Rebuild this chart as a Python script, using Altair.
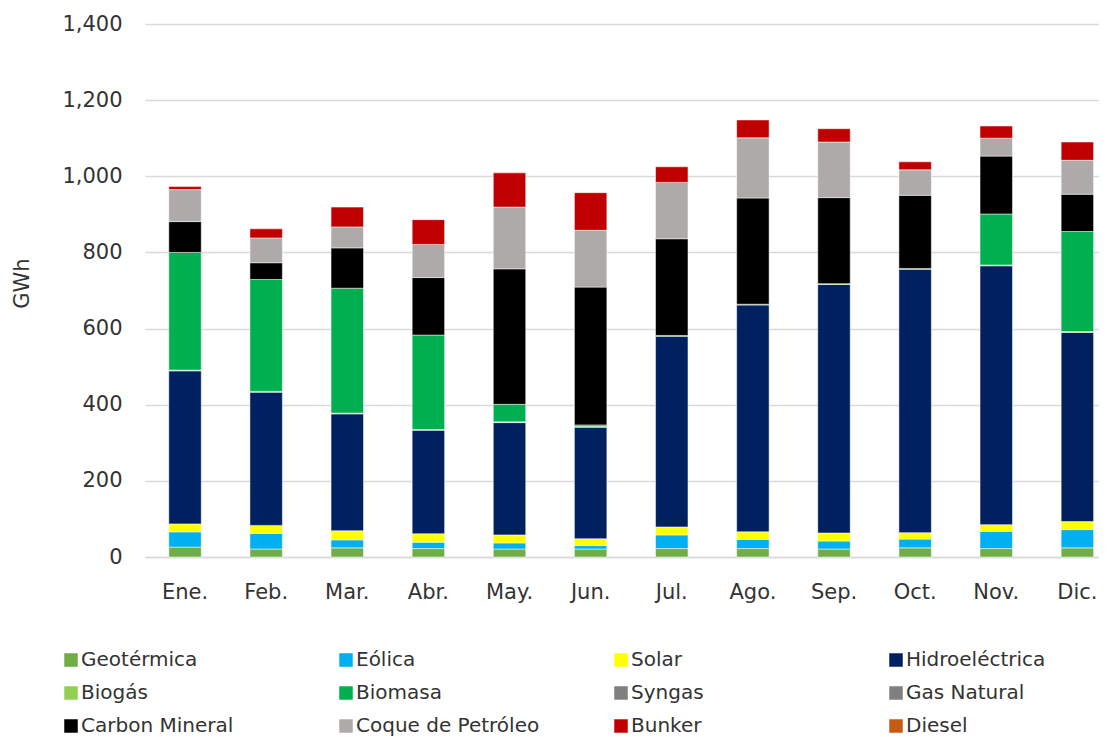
import altair as alt
import pandas as pd

months = ["Ene.", "Feb.", "Mar.", "Abr.", "May.", "Jun.", "Jul.", "Ago.", "Sep.", "Oct.", "Nov.", "Dic."]
sources = ["Geotérmica", "Eólica", "Solar", "Hidroeléctrica", "Biogás", "Biomasa",
           "Syngas", "Gas Natural", "Carbon Mineral", "Coque de Petróleo", "Bunker", "Diesel"]
colors = ["#70AD47", "#00B0F0", "#FFFF00", "#002060", "#92D050", "#00B050",
          "#808080", "#7F7F7F", "#000000", "#AEAAAA", "#C00000", "#C55A11"]

geotermica = [26, 21, 24, 22, 21, 21, 22, 22, 21, 24, 22, 24]
eolica = [40, 41, 21, 17, 16, 9, 36, 24, 21, 23, 45, 48]
solar = [21, 21, 24, 22, 21, 18, 21, 20, 21, 17, 18, 21]
hidro = [402, 350, 307, 272, 295, 293, 501, 596, 653, 692, 680, 497]
biogas = [2, 2, 2, 2, 2, 2, 2, 2, 2, 2, 2, 2]
biomasa = [309, 294, 328, 248, 46, 4, 0, 0, 0, 0, 134, 263]
syngas = [0, 0, 0, 0, 0, 0, 0, 0, 0, 0, 0, 0]
gas_natural = [0, 0, 0, 0, 0, 0, 0, 0, 0, 0, 0, 0]
carbon = [81, 44, 106, 151, 356, 362, 254, 279, 226, 192, 152, 98]
coque = [84, 65, 55, 87, 162, 149, 148, 158, 146, 67, 47, 89]
bunker = [8, 24, 52, 65, 90, 99, 41, 47, 35, 21, 32, 48]
diesel = [0, 0, 0, 0, 0, 0, 0, 0, 0, 0, 0, 0]

series = [geotermica, eolica, solar, hidro, biogas, biomasa,
          syngas, gas_natural, carbon, coque, bunker, diesel]

rows = []
for si, (name, vals) in enumerate(zip(sources, series)):
    for m, v in zip(months, vals):
        if v > 0:
            rows.append({"Mes": m, "Fuente": name, "GWh": v, "idx": si})
df = pd.DataFrame(rows)

FONT = "DejaVu Sans"
TXT = "#333333"

chart = alt.Chart(df).mark_bar(stroke="white", strokeWidth=0.5).encode(
    x=alt.X("Mes:N",
            scale=alt.Scale(domain=months, paddingInner=0.6, paddingOuter=0.18, align=0.815),
            axis=alt.Axis(title=None, labelAngle=0, ticks=False, tickSize=0, domain=True,
                          domainColor="#d9d9d9", domainWidth=1.3, labelPadding=24,
                          labelFontSize=21, labelFont=FONT, labelColor=TXT, grid=False)),
    y=alt.Y("GWh:Q", stack="zero",
            scale=alt.Scale(domain=[0, 1400], nice=False),
            axis=alt.Axis(values=list(range(0, 1401, 200)), format=",.0f", title="GWh",
                          ticks=False, tickSize=0, domain=False, labelPadding=23,
                          labelFontSize=21, labelFont=FONT, labelColor=TXT,
                          gridColor="#d9d9d9", gridWidth=1.3,
                          titleFont=FONT, titleFontSize=21, titleFontWeight="normal",
                          titleColor=TXT, titleAngle=270, titleX=-123, titleY=259,
                          titleAlign="center", titleBaseline="middle")),
    color=alt.Color("Fuente:N",
                    scale=alt.Scale(domain=sources, range=colors),
                    legend=alt.Legend(orient="none", legendX=-84, legendY=626,
                                      direction="horizontal", columns=4, title=None,
                                      symbolType="square", symbolSize=182,
                                      symbolStrokeWidth=0, labelFontSize=20,
                                      labelFont=FONT, labelColor=TXT, labelOffset=0,
                                      columnPadding=71, rowPadding=13, gridAlign="all",
                                      padding=0, labelLimit=300)),
    order=alt.Order("idx:Q", sort="ascending"),
).properties(
    width=954, height=533,
    autosize=alt.AutoSizeParams(type="none"),
    padding={"left": 137, "top": 16, "right": 0, "bottom": 180},
).configure_view(stroke=None)

chart.save("out.html", embed_options={"renderer": "svg", "actions": False})
